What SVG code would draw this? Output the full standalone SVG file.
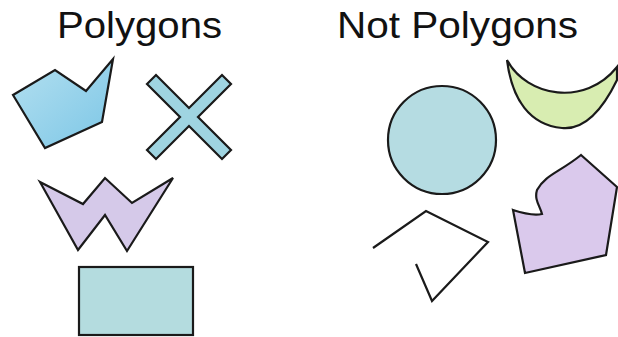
<svg xmlns="http://www.w3.org/2000/svg" width="618" height="337" viewBox="0 0 618 337">
<defs>
<linearGradient id="gBlue" x1="0" y1="0" x2="1" y2="1">
<stop offset="0" stop-color="#b4e0f0"/>
<stop offset="1" stop-color="#7cc6e6"/>
</linearGradient>
<style>
.t{font-family:"Liberation Sans",Arial,sans-serif;font-size:36px;fill:#111}
.s{stroke:#1a1a1a;stroke-width:2.2;stroke-linejoin:miter}
</style>
</defs>
<rect width="618" height="337" fill="#fff"/>
<text class="t" x="57" y="37.5" textLength="165" lengthAdjust="spacingAndGlyphs">Polygons</text>
<text class="t" x="337" y="37.5" textLength="241" lengthAdjust="spacingAndGlyphs">Not Polygons</text>
<g id="pentagon-blue"><polygon class="s" fill="url(#gBlue)" points="13,95 55,70 86,91 113,59 102,122 45,148"/></g>
<g id="cross"><polygon class="s" fill="#9fd4e1" points="147,84 156,75 189,108 222,75 231,84 198,117 231,150 222,159 189,126 156,159 147,150 180,117"/></g>
<g id="w-shape"><polygon class="s" fill="#d5c9e9" points="40,182 83,204 105,178 132,203 173,178 127,251 105,215 78,250"/></g>
<g id="rectangle"><rect class="s" fill="#b4dcdf" x="79" y="267" width="114" height="68"/></g>
<g id="circle"><circle class="s" fill="#b5dce2" cx="442" cy="140" r="54"/></g>
<g id="crescent"><path class="s" fill="#d8edb1" d="M507,60 C527,97 585,107 617,67 L617,80 C600,115 582,130 562,128 C530,125 512,100 507,60 Z"/></g>
<g id="open-shape"><polyline class="s" fill="none" points="373,248 426,211 488,242 432,301 416,264"/></g>
<g id="wavy-pentagon"><path class="s" fill="#dac9ec" d="M581,155 L617,187 L606,255 L525,273 L513,210 C522,213 532,216 542,214 C540,206 534,200 537,190 C545,175 560,172 581,155 Z"/></g>
</svg>
